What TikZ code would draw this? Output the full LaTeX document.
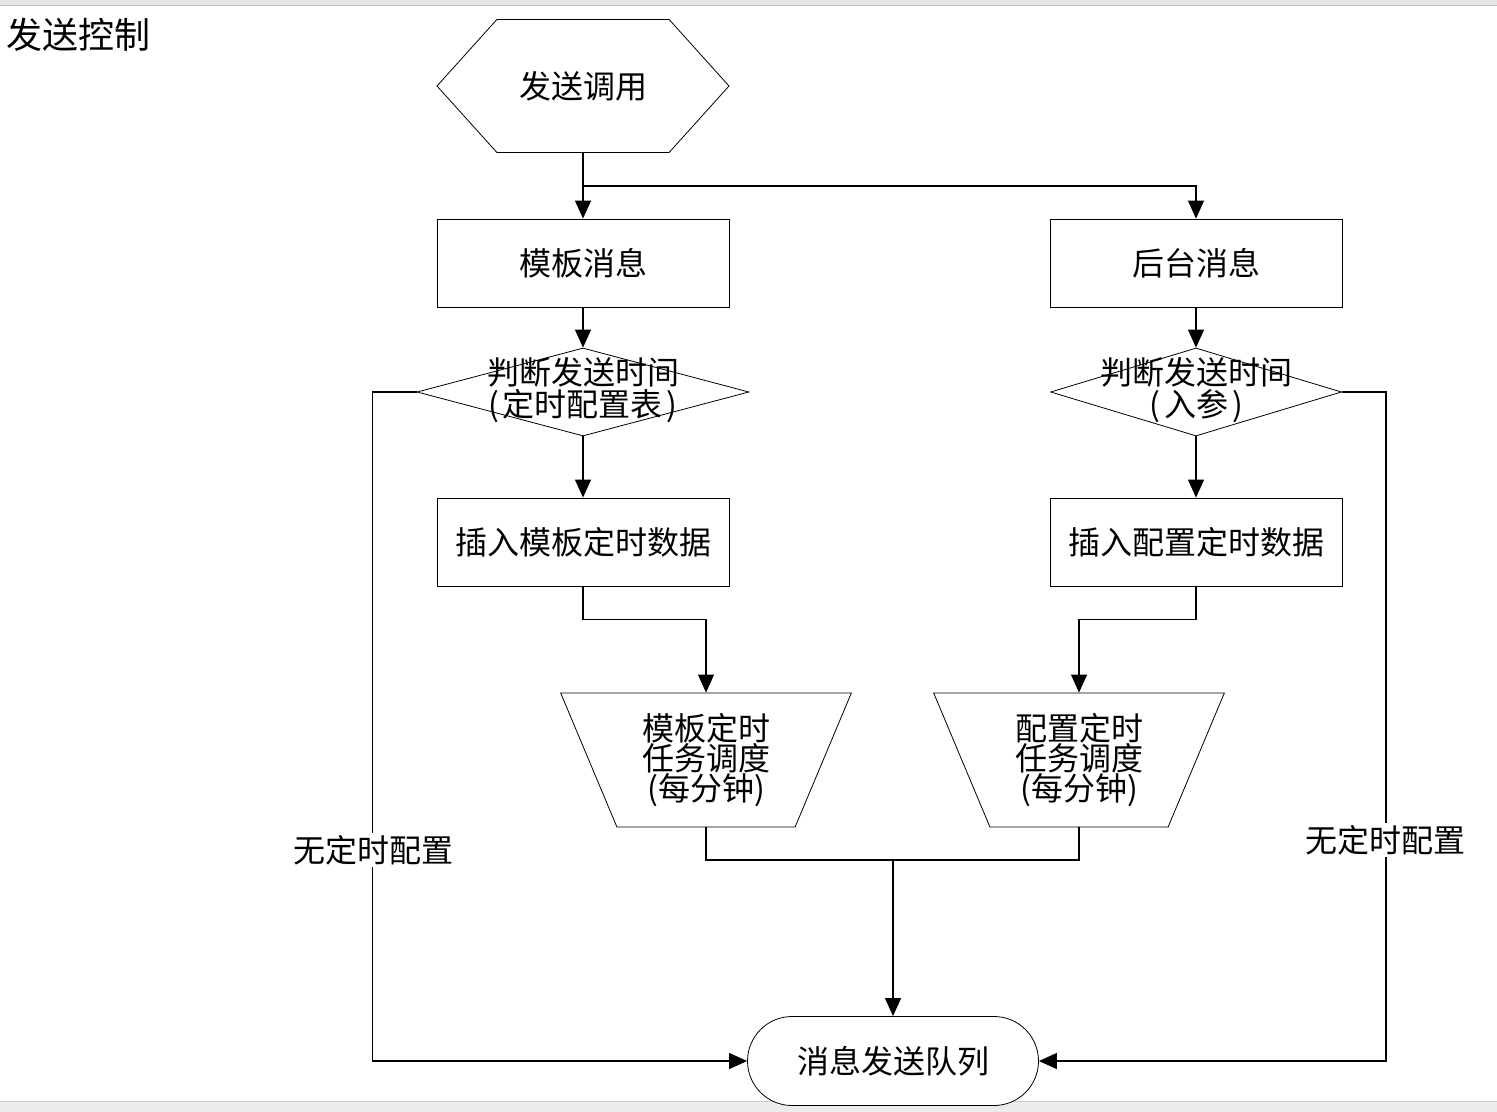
\documentclass[tikz,border=0pt]{standalone}
\usepackage{fontspec}
\setmainfont{Noto Sans CJK SC}
\usetikzlibrary{shapes.geometric, shapes.misc, shapes.symbols, arrows.meta}

\begin{document}
\begin{tikzpicture}[
  x = 0.5pt, y = -0.5pt,
  every node/.style = {font = \fontsize{16}{15}\selectfont, inner sep = 0pt},
  box/.style = {draw, rectangle, minimum width = 146pt, minimum height = 44pt},
  decision/.style = {draw, diamond, minimum width = 166pt, minimum height = 44pt},
  caller/.style = {draw, signal, signal to = west and east, signal pointer angle = 96,
                   minimum width = 146pt, minimum height = 66.5pt},
  sched/.style = {draw, trapezium, shape border rotate = 180, trapezium stretches = true,
                  trapezium left angle = 66.6, trapezium right angle = 66.6,
                  minimum width = 145.5pt, minimum height = 67pt, align = center},
  queue/.style = {draw, fill = white, rounded rectangle, minimum width = 145.5pt, minimum height = 44.5pt},
  link/.style = {line width = 0.6pt},
  arrow/.style = {link, -{Triangle[length = 9pt, width = 8pt]}},
  nolabel/.style = {fill = white, inner sep = 1pt},
  ]
  \useasboundingbox (0,0) rectangle (1497,1112);
  % window bands
  \fill[gray!20] (0,0) rectangle (1497,5);
  \draw[gray!50] (0,5) -- (1497,5);
  \fill[gray!15] (0,1101) rectangle (1497,1112);
  \draw[gray!40] (0,1101) -- (1497,1101);

  \node (title) [anchor = west, font = \fontsize{18}{18}\selectfont] at (6,35) {发送控制};

  \node (call) [caller] at (583,86) {发送调用};

  \node (tplmsg) [box] at (583,263) {模板消息};
  \node (bgmsg)  [box] at (1196,263) {后台消息};

  \node (tplchk) [decision] at (583,392) {};
  \node (tplchktext) [align = center, font = \fontsize{16}{14}\selectfont] at (583,390) {判断发送时间\\(\hspace{2pt}定时配置表\hspace{2pt})};
  \node (bgchk) [decision, minimum width = 145.5pt] at (1196,392) {};
  \node (bgchktext) [align = center, font = \fontsize{16}{14}\selectfont] at (1196,390) {判断发送时间\\(\hspace{2pt}入参\hspace{2pt})};

  \node (tplins) [box] at (583,542) {插入模板定时数据};
  \node (bgins)  [box] at (1196,542) {插入配置定时数据};

  \node (tplsch) [sched] at (706,760) {模板定时\\任务调度\\(每分钟)};
  \node (bgsch)  [sched] at (1079,760) {配置定时\\任务调度\\(每分钟)};

  \node (sendq) [queue] at (893,1061) {消息发送队列};

  \coordinate (split) at (583,186);
  \coordinate (merge) at (893,860);

  \draw[arrow] (call.south) -- (tplmsg.north);
  \draw[arrow] (split) -| (bgmsg.north);
  \draw[arrow] (tplmsg.south) -- (tplchk.north);
  \draw[arrow] (bgmsg.south) -- (bgchk.north);
  \draw[arrow] (tplchk.south) -- (tplins.north);
  \draw[arrow] (bgchk.south) -- (bgins.north);
  \draw[arrow] (tplins.south) -- ++(0,33) -| (tplsch.north);
  \draw[arrow] (bgins.south) -- ++(0,33) -| (bgsch.north);
  \draw[link] (tplsch.south) |- (merge) -| (bgsch.south);
  \draw[arrow] (merge) -- (sendq.north);
  \draw[arrow] (tplchk.west) -- ++(-44,0) |- (sendq.west);
  \draw[arrow] (bgchk.east) -- ++(44,0) |- (sendq.east);

  \node (tplnone) [nolabel] at (373,850) {无定时配置};
  \node (bgnone)  [nolabel] at (1385,840) {无定时配置};
\end{tikzpicture}
\end{document}
